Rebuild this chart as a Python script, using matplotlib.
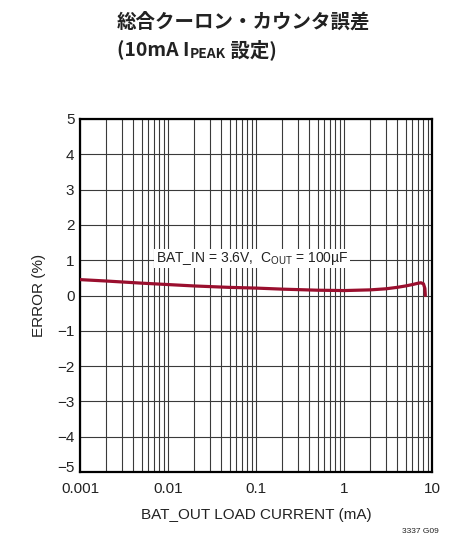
import matplotlib
matplotlib.use("Agg")
import matplotlib.pyplot as plt
import matplotlib.transforms as mtransforms
from matplotlib.ticker import LogLocator, NullFormatter, FixedLocator

# load current (mA) vs. coulomb counter error (%)
load_ma = [0.001, 0.002, 0.005, 0.01, 0.02, 0.05, 0.1, 0.2, 0.5, 1, 2, 3, 4, 5, 6, 7, 7.5, 8.0, 8.3, 8.4]
error_pct = [0.45, 0.41, 0.35, 0.31, 0.27, 0.23, 0.21, 0.18, 0.15, 0.14, 0.16, 0.19, 0.23, 0.27, 0.31, 0.35, 0.36, 0.33, 0.2, 0.0]

x_ticks = [0.001, 0.01, 0.1, 1, 10]
x_tick_labels = ["0.001", "0.01", "0.1", "1", "10"]
y_ticks = [-5, -4, -3, -2, -1, 0, 1, 2, 3, 4, 5]

narrow = ["Liberation Sans Narrow", "Liberation Sans", "DejaVu Sans"]
cjk = ["Noto Sans CJK JP", "DejaVu Sans"]
plt.rcParams["font.family"] = narrow
plt.rcParams["axes.unicode_minus"] = True

fig = plt.figure(figsize=(4.58, 5.37), dpi=100)
ax = fig.add_axes([80 / 458, 65 / 537, 352 / 458, 353 / 537])

ax.plot(load_ma, error_pct, color="#9a0f2e", lw=2.3, solid_capstyle="round", zorder=3)

ax.set_xscale("log")
ax.set_xlim(0.001, 10)
ax.set_ylim(-5, 5)
ax.xaxis.set_major_locator(FixedLocator(x_ticks))
ax.set_xticklabels(x_tick_labels)
ax.xaxis.set_minor_locator(LogLocator(base=10, subs=range(2, 10)))
ax.xaxis.set_minor_formatter(NullFormatter())
ax.set_yticks(y_ticks)
ax.set_yticklabels([str(v).replace("-", "\u2212") for v in y_ticks])

ax.grid(True, which="both", axis="x", color="#3a3a3a", lw=0.8)
ax.grid(True, which="major", axis="y", color="#3a3a3a", lw=0.8)
ax.tick_params(which="both", length=0, labelsize=11, colors="#222222")
ax.tick_params(axis="x", pad=7)
ax.tick_params(axis="y", pad=4)
for s in ax.spines.values():
    s.set_linewidth(1.6)
    s.set_color("black")

# lift the bottom y label clear of the first x label
lift = mtransforms.ScaledTranslation(0, 4 / 72, fig.dpi_scale_trans)
bottom_lbl = ax.get_yticklabels()[0]
bottom_lbl.set_transform(bottom_lbl.get_transform() + lift)

ax.set_xlabel("BAT_OUT LOAD CURRENT (mA)", fontsize=11, color="#222222", labelpad=9)
ax.set_ylabel("ERROR (%)", fontsize=11, color="#222222", labelpad=8)

ax.text(0.09, 1.05, r"BAT_IN = 3.6V,  C$_{\mathregular{OUT}}$ = 100µF", fontsize=10,
        ha="center", va="center", color="#222222", zorder=4,
        bbox=dict(facecolor="white", edgecolor="none", pad=1.0))

fig.text(0.918, 0.004, "3337 G09", fontsize=6, ha="center", va="bottom", color="#222222")

# two-line title, second line assembled piece by piece for the subscript
fig.text(117 / 458, 1 - 22 / 537, "総合クーロン・カウンタ誤差", fontsize=14, fontweight="bold",
         family=cjk, ha="left", va="center", color="#222222")
renderer = fig.canvas.get_renderer()
x0 = 117 / 458
y0 = 1 - 50 / 537
pieces = [("(10mA I", 14, 0.0), ("PEAK", 10, -0.008), (" 設定)", 14, 0.0)]
for txt, size, dy in pieces:
    t = fig.text(x0, y0 + dy, txt, fontsize=size, fontweight="bold", family=cjk,
                 ha="left", va="center", color="#222222")
    bb = t.get_window_extent(renderer)
    x0 += bb.width / fig.bbox.width

fig.savefig("out.png", dpi=100)
